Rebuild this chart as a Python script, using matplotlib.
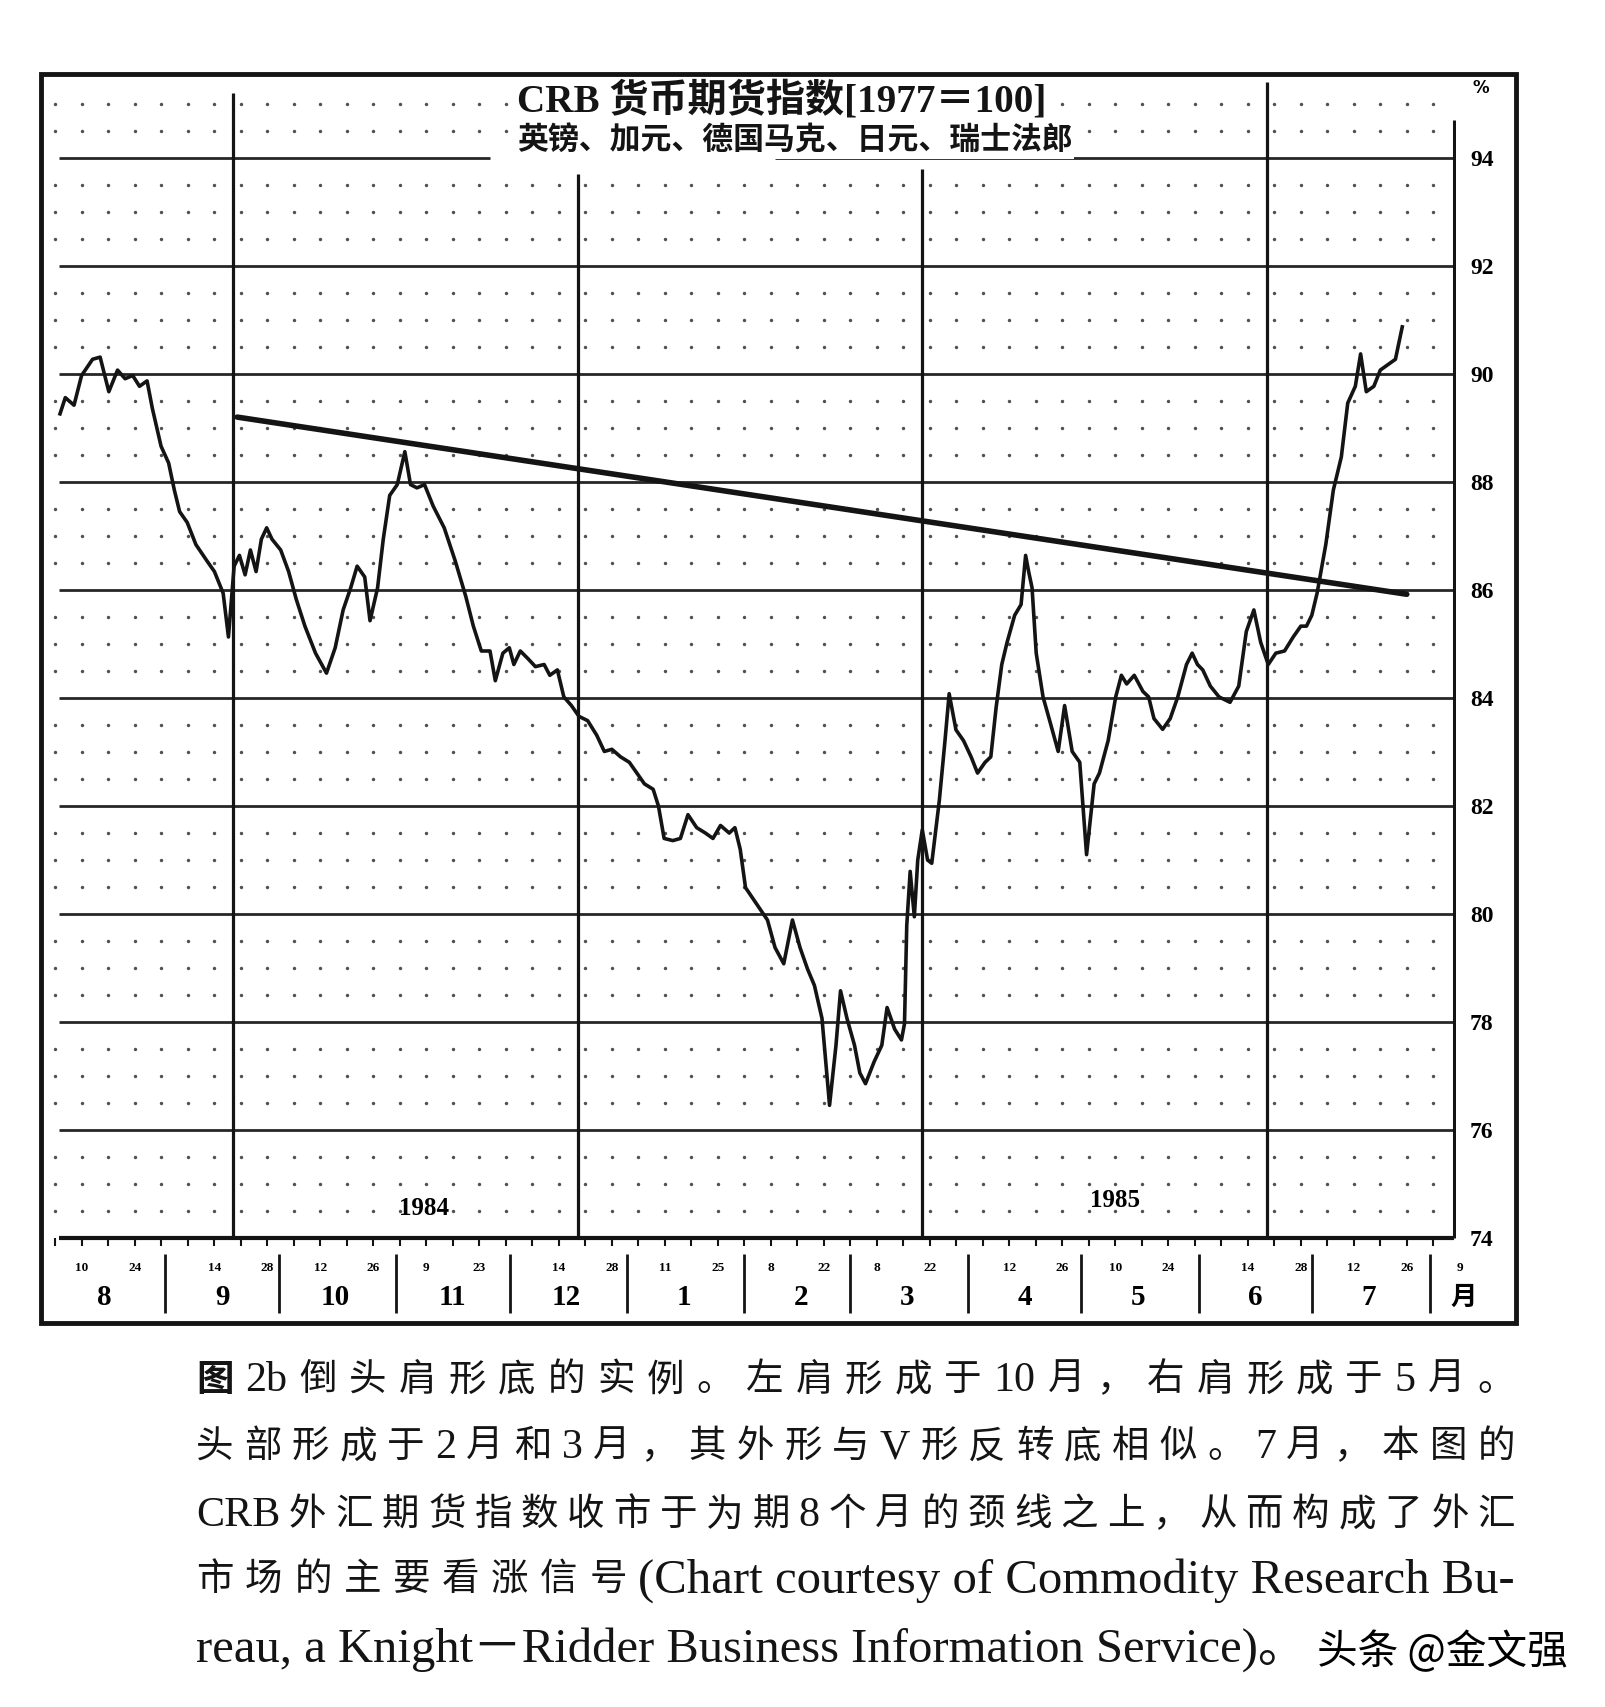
import re
import numpy as np
import matplotlib
matplotlib.use('Agg')
import matplotlib.pyplot as plt
from matplotlib.patches import Rectangle

W, H = 1606, 1707
base = np.datetime64('1984-08-01')

def day(s):
	return int((np.datetime64(s) - base).astype(int))

# CRB currency futures index, x = days since 1984-08-01
days = [3.2, 4.6, 6.9, 8.9, 11.8, 13.8, 16.1, 18.4, 20.4, 22.4, 24.2, 26.2, 27.6, 29.9, 31.9, 33.4,
	34.8, 36.8, 39.1, 42.0, 44.0, 46.3, 47.7, 49.2, 50.6, 52.1, 53.5, 55.0, 56.4, 57.8, 59.2, 61.5,
	63.6, 65.6, 67.9, 70.7, 73.6, 75.9, 78.0, 80.0, 81.7, 83.7, 85.1, 87.1, 88.6, 90.3, 92.3, 94.3,
	95.8, 97.5, 99.5, 101.8, 104.7, 107.6, 110.4, 112.4, 114.5, 116.8, 118.2, 120.2, 121.9, 123.1,
	124.8, 126.8, 128.8, 131.1, 132.6, 134.6, 136.3, 138.3, 140.3, 142.6, 145.0, 147.0, 149.0, 151.3,
	153.6, 155.6, 157.6, 159.9, 161.3, 162.8, 165.1, 167.1, 169.1, 171.4, 173.7, 175.7, 177.7, 180.0,
	181.5, 182.9, 184.3, 187.2, 190.1, 192.1, 194.4, 196.7, 198.7, 200.7, 202.5, 204.5, 206.5, 208.2,
	209.4, 211.1, 213.1, 214.5, 216.0, 218.3, 220.3, 221.7, 223.7, 225.5, 226.3, 226.9, 227.8, 228.9,
	229.8, 231.0, 232.4, 233.5, 235.5, 237.0, 238.1, 239.9, 241.9, 243.9, 245.6, 247.6, 249.1, 250.5,
	252.0, 253.4, 255.4, 257.1, 258.3, 259.1, 260.0, 261.1, 262.9, 264.9, 266.9, 268.6, 270.6, 272.6,
	274.4, 276.4, 277.8, 280.1, 282.1, 283.6, 285.0, 287.0, 289.3, 290.8, 292.2, 294.5, 296.5, 298.5,
	300.8, 302.3, 303.7, 305.1, 307.1, 309.4, 312.3, 314.6, 316.6, 318.6, 320.4, 322.4, 324.4, 326.7,
	329.0, 331.0, 332.5, 333.9, 335.3, 337.6, 339.6, 341.7, 343.4, 345.4, 346.8, 348.3, 350.3, 352.0,
	354.0, 356.0, 357.8]
index = [89.26, 89.56, 89.42, 89.97, 90.27, 90.31, 89.67, 90.07, 89.91, 89.97, 89.77, 89.87, 89.36,
	88.66, 88.35, 87.85, 87.45, 87.25, 86.84, 86.54, 86.34, 85.94, 85.13, 86.44, 86.64, 86.28, 86.74,
	86.34, 86.94, 87.15, 86.94, 86.74, 86.34, 85.83, 85.33, 84.83, 84.46, 84.93, 85.63, 86.04, 86.44,
	86.24, 85.43, 86.04, 86.94, 87.75, 87.95, 88.56, 87.95, 87.89, 87.95, 87.55, 87.15, 86.54, 85.88,
	85.33, 84.87, 84.87, 84.32, 84.83, 84.93, 84.62, 84.87, 84.73, 84.58, 84.62, 84.42, 84.52, 84.02,
	83.86, 83.66, 83.58, 83.31, 83.01, 83.05, 82.91, 82.81, 82.61, 82.41, 82.31, 82.00, 81.40, 81.36,
	81.40, 81.84, 81.60, 81.50, 81.40, 81.64, 81.50, 81.60, 81.20, 80.49, 80.19, 79.89, 79.38, 79.08,
	79.89, 79.38, 78.98, 78.68, 78.07, 76.46, 77.57, 78.58, 78.07, 77.57, 77.06, 76.86, 77.27, 77.57,
	78.27, 77.87, 77.67, 77.97, 79.79, 80.79, 79.95, 81.00, 81.56, 81.00, 80.94, 82.10, 83.21, 84.08,
	83.41, 83.21, 82.91, 82.61, 82.81, 82.91, 83.82, 84.62, 85.03, 85.53, 85.73, 86.64, 86.34, 86.04,
	84.83, 84.02, 83.52, 83.01, 83.86, 83.01, 82.81, 81.10, 82.41, 82.61, 83.21, 84.02, 84.42, 84.26,
	84.42, 84.12, 84.02, 83.62, 83.42, 83.62, 84.02, 84.62, 84.83, 84.62, 84.52, 84.22, 84.02, 83.92,
	84.22, 85.23, 85.63, 85.03, 84.62, 84.83, 84.87, 85.13, 85.33, 85.33, 85.53, 85.94, 86.84, 87.85,
	88.46, 89.46, 89.77, 90.37, 89.67, 89.77, 90.07, 90.17, 90.27, 90.87]

# neckline
neck_days = [50.0, 359.0]
neck_vals = [89.20, 85.92]

# contract expiry verticals and how high each one reaches
imm_dates = ['1984-09-19', '1984-12-19', '1985-03-20', '1985-06-19']
imm_tops = [95.2, 93.7, 93.8, 95.4]

y_ticks = [74, 76, 78, 80, 82, 84, 86, 88, 90, 92, 94]
month_labels = ['8', '9', '10', '11', '12', '1', '2', '3', '4', '5', '6', '7']
date_labels = ['1984-08-10', '1984-08-24', '1984-09-14', '1984-09-28', '1984-10-12', '1984-10-26',
	'1984-11-09', '1984-11-23', '1984-12-14', '1984-12-28', '1985-01-11', '1985-01-25',
	'1985-02-08', '1985-02-22', '1985-03-08', '1985-03-22', '1985-04-12', '1985-04-26',
	'1985-05-10', '1985-05-24', '1985-06-14', '1985-06-28', '1985-07-12', '1985-07-26', '1985-08-09']
years = ['1984', '1985']
year_pos = [(99.5, 74.55), (282.0, 74.7)]

title = 'CRB 货币期货指数[1977＝100]'
subtitle = '英镑、加元、德国马克、日元、瑞士法郎'
caption = ['图 2b 倒头肩形底的实例。左肩形成于10月，右肩形成于5月。',
	'头部形成于 2 月和 3 月，其外形与 V 形反转底相似。7 月，本图的',
	'CRB 外汇期货指数收市于为期 8 个月的颈线之上，从而构成了外汇',
	'市场的主要看涨信号(Chart courtesy of Commodity Research Bu-']
caption_last = 'reau, a Knight－Ridder Business Information Service)。'
mark = '头条 @金文强'

SERIF = ['Liberation Serif', 'Noto Sans CJK SC']
CJK = ['Noto Sans CJK SC', 'DejaVu Sans']
INK = '#141414'

fig = plt.figure(figsize=(W/100, H/100), dpi=100)
fig.patch.set_facecolor('white')
ax = fig.add_axes([46/W, 1-1323/H, 1410/W, 1243/H])
x_lo, x_hi = -0.5, 372.0
ax.set_xlim(x_lo, x_hi)
ax.set_ylim(72.43, 95.44)
for s in ax.spines.values():
	s.set_visible(False)
ax.set_xticks([])
x_end = 371.5

# dotted background grid: weekly columns, half-point rows
fridays = np.arange(day('1984-08-03'), x_end, 7)
rows = [v for v in np.arange(74.5, 95.5, 0.5) if v % 2 != 0]
gx, gy = np.meshgrid(fridays, rows)
ax.scatter(gx.ravel(), gy.ravel(), s=6, color='#505050', lw=0, zorder=1)

# horizontal rules
for v in y_ticks[1:-1]:
	ax.hlines(v, 3, x_end, color='#262626', lw=2.0, zorder=2)
ax.hlines(94, 3, 116.8, color='#262626', lw=2.0, zorder=2)
ax.hlines(94, 192.1, x_end, color='#262626', lw=2.0, zorder=2)
ax.hlines(74, 3, x_end, color=INK, lw=3.0, zorder=2)
ax.vlines(x_end, 74, 94.7, color=INK, lw=2.2, zorder=2)

for d, top in zip(imm_dates, imm_tops):
	ax.vlines(day(d), 74, top, color=INK, lw=2.3, zorder=2)

ax.plot(days, index, color=INK, lw=2.6, zorder=5)
ax.plot(neck_days, neck_vals, color=INK, lw=4.0, solid_capstyle='round', zorder=4)

# bottom date band
ax.vlines(fridays, 73.86, 74, color=INK, lw=1.5, clip_on=False)
for d in date_labels:
	ax.text(day(d), 73.45, str(int(d[-2:])), ha='center', va='center', fontsize=9.5,
		fontweight='bold', family=SERIF, clip_on=False)
starts = np.arange(np.datetime64('1984-08'), np.datetime64('1985-09'), dtype='datetime64[M]')
starts = [day(str(m) + '-01') for m in starts]
for s0 in starts[1:]:
	ax.vlines(s0, 72.62, 73.7, color=INK, lw=2.0, clip_on=False)
for s0, lab in zip(starts, month_labels):
	ax.text(s0 + 15, 72.9, lab, ha='center', va='center', fontsize=21, fontweight='bold',
		family=SERIF, clip_on=False)
ax.text(starts[-1] + 9, 72.9, '月', ha='center', va='center', fontsize=19, fontweight='bold',
	family=CJK, clip_on=False)

for lab, (d, v) in zip(years, year_pos):
	ax.text(d, v, lab, ha='center', va='center', fontsize=18, fontweight='heavy', family=SERIF)

# value axis on the right
ax.yaxis.tick_right()
ax.set_yticks(y_ticks)
ax.set_yticklabels([str(v) for v in y_ticks], fontsize=17, fontweight='bold', family=SERIF)
ax.tick_params(axis='y', length=0, pad=10)
ax.text(378.6, 95.3, '%', ha='center', va='center', fontsize=12, fontweight='bold', clip_on=False)

# outer frame
fig.add_artist(Rectangle((41/W, 1-1323/H), (1516-41)/W, (1323-74)/H, transform=fig.transFigure,
	fill=False, lw=3.5, edgecolor=INK))

renderer = fig.canvas.get_renderer()

def fit(txt, x0, x1, y, **kw):
	t = fig.text(x0/W, 1-y/H, txt, va='center', ha='left', **kw)
	w = t.get_window_extent(renderer).width
	t.set_fontsize(t.get_fontsize()*(x1-x0)/w)
	return t

def justify(line, x0, x1, y, size, ascii_scale=1.12):
	# ascii runs (with inner spaces) stay as one piece, the rest is spread char by char
	toks = re.findall(r'[!-~]+(?: [!-~]+)*|\S', line)
	arts = []
	for k, t in enumerate(toks):
		sz = size*ascii_scale if re.match(r'[!-~]', t) else size
		wt = 'bold' if (k == 0 and t == '图') else 'normal'
		arts.append(fig.text(0, 1-y/H, t, fontsize=sz, family=SERIF, va='center', color=INK,
			fontweight=wt))
	ws = [a.get_window_extent(renderer).width for a in arts]
	gap = (x1 - x0 - sum(ws))/(len(toks) - 1)
	x = x0
	for a, w in zip(arts, ws):
		a.set_x(x/W)
		x += w + gap

fit(title, 517, 1047, 101, fontsize=24, fontweight='bold', family=SERIF, color=INK,
	bbox=dict(facecolor='white', edgecolor='none', pad=1))
fit(subtitle, 517, 1072, 141, fontsize=20, fontweight='bold', family=CJK, color=INK,
	bbox=dict(facecolor='white', edgecolor='none', pad=1))

cap_y = [1381, 1448, 1516, 1581]
for i, line in enumerate(caption):
	justify(line, 196, 1515, cap_y[i], 27, 1.12 if i < 3 else 1.3)
fit(caption_last, 196, 1307, 1650, fontsize=28, family=SERIF, color=INK)
fit(mark, 1317, 1568, 1652, fontsize=26, family=CJK, color='black')

fig.savefig('out.png', dpi=100, facecolor='white')
